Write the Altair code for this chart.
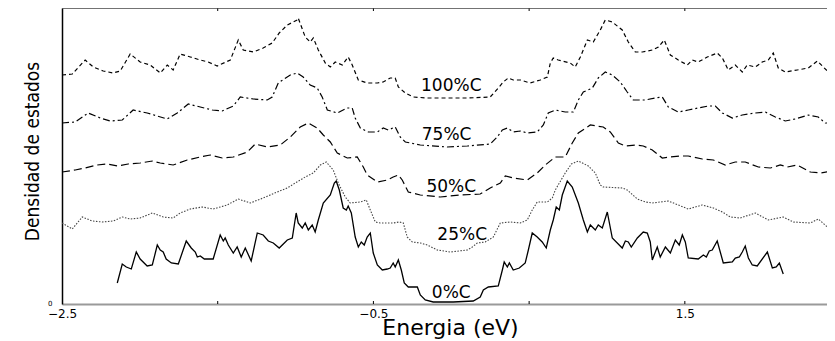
import altair as alt
import pandas as pd

# ---- data (energy in eV, density of states in arbitrary units) ----
E_0 = [-2.145, -2.113, -2.087, -2.055, -2.023, -1.998, -1.953, -1.920, -1.888, -1.869, -1.850, -1.831,
       -1.798, -1.753, -1.702, -1.670, -1.644, -1.631, -1.612, -1.586, -1.529, -1.484, -1.464, -1.452,
       -1.432, -1.400, -1.375, -1.349, -1.323, -1.285, -1.246, -1.208, -1.175, -1.143, -1.105, -1.053,
       -1.021, -0.996, -0.983, -0.957, -0.938, -0.918, -0.893, -0.874, -0.854, -0.822, -0.777, -0.751,
       -0.739, -0.719, -0.694, -0.674, -0.662, -0.642, -0.617, -0.597, -0.578, -0.559, -0.540, -0.520,
       -0.501, -0.475, -0.443, -0.411, -0.392, -0.373, -0.360, -0.340, -0.321, -0.302, -0.276, -0.218,
       -0.199, -0.167, -0.116, 0.013, 0.141, 0.186, 0.206, 0.238, 0.302, 0.328, 0.340, 0.360, 0.373,
       0.398, 0.437, 0.475, 0.495, 0.520, 0.552, 0.584, 0.610, 0.636, 0.655, 0.674, 0.694, 0.713,
       0.745, 0.777, 0.816, 0.848, 0.874, 0.893, 0.925, 0.944, 0.970, 1.002, 1.034, 1.098, 1.118,
       1.137, 1.156, 1.195, 1.233, 1.259, 1.278, 1.291, 1.323, 1.342, 1.375, 1.407, 1.439, 1.464,
       1.484, 1.503, 1.522, 1.586, 1.619, 1.638, 1.657, 1.676, 1.708, 1.747, 1.805, 1.824, 1.850,
       1.869, 1.888, 1.908, 1.933, 1.965, 2.030, 2.062, 2.087, 2.107, 2.132]
D_0 = [21, 40, 37, 35, 52, 45, 38, 39, 59, 54, 52, 45,
       41, 40, 63, 56, 52, 47, 48, 45, 45, 69, 63, 66,
       59, 51, 57, 47, 56, 43, 71, 69, 63, 61, 56, 64,
       66, 91, 81, 76, 81, 74, 79, 72, 84, 101, 109, 121,
       123, 114, 96, 94, 98, 91, 67, 57, 62, 59, 67, 71,
       51, 39, 34, 35, 36, 41, 37, 44, 34, 21, 17, 17,
       9, 4, 2, 2, 3, 7, 14, 17, 18, 34, 42, 37, 41,
       34, 36, 41, 54, 71, 67, 62, 56, 74, 84, 97, 94, 109,
       123, 117, 101, 84, 72, 79, 74, 79, 76, 92, 66, 56, 63,
       62, 57, 66, 72, 71, 62, 44, 57, 47, 57, 51, 64, 59,
       69, 62, 46, 45, 49, 47, 53, 54, 63, 41, 42, 46, 47,
       52, 58, 46, 39, 38, 52, 36, 37, 41, 30]

E_25 = [-2.500, -2.434, -2.370, -2.306, -2.242, -2.171, -2.113, -2.062, -1.998, -1.920, -1.850, -1.786,
        -1.741, -1.676, -1.599, -1.529, -1.439, -1.368, -1.291, -1.208, -1.118, -1.053, -1.002, -0.938,
        -0.886, -0.841, -0.803, -0.758, -0.726, -0.681, -0.649, -0.584, -0.546, -0.520, -0.488, -0.456,
        -0.373, -0.334, -0.308, -0.283, -0.250, -0.199, -0.154, -0.090, -0.006, 0.103, 0.135, 0.167,
        0.218, 0.270, 0.315, 0.379, 0.443, 0.488, 0.520, 0.552, 0.617, 0.649, 0.668, 0.694, 0.732,
        0.771, 0.816, 0.880, 0.925, 0.957, 0.976, 1.098, 1.130, 1.195, 1.246, 1.291, 1.394, 1.458,
        1.522, 1.612, 1.683, 1.741, 1.792, 1.856, 1.953, 2.036, 2.132, 2.197, 2.306, 2.357, 2.415, 2.450]
D_25 = [81, 75, 87, 83, 82, 83, 87, 85, 86, 91, 87, 86,
        91, 95, 97, 95, 99, 105, 101, 106, 112, 116, 121, 127,
        131, 139, 142, 134, 121, 107, 101, 102, 104, 94, 82, 81,
        81, 82, 81, 67, 62, 61, 59, 54, 52, 54, 57, 61,
        62, 67, 81, 82, 81, 84, 94, 102, 102, 106, 114, 121, 131,
        140, 143, 138, 131, 119, 117, 116, 114, 105, 102, 101, 103, 99,
        95, 99, 96, 92, 87, 86, 91, 84, 87, 82, 81, 85, 77, 76]

E_50 = [-2.500, -2.415, -2.351, -2.274, -2.209, -2.145, -2.075, -1.998, -1.920, -1.869, -1.786, -1.696,
        -1.612, -1.548, -1.471, -1.400, -1.310, -1.259, -1.182, -1.098, -1.034, -0.970, -0.918, -0.861,
        -0.822, -0.777, -0.732, -0.668, -0.604, -0.565, -0.540, -0.475, -0.411, -0.373, -0.340, -0.315,
        -0.276, -0.199, -0.071, 0.058, 0.186, 0.250, 0.315, 0.347, 0.398, 0.488, 0.552, 0.604, 0.668,
        0.732, 0.777, 0.816, 0.893, 0.976, 1.021, 1.073, 1.118, 1.182, 1.233, 1.291, 1.355, 1.407,
        1.471, 1.522, 1.612, 1.683, 1.760, 1.824, 1.888, 1.972, 2.049, 2.113, 2.158, 2.222, 2.306,
        2.370, 2.450]
D_50 = [132, 134, 136, 139, 140, 138, 140, 141, 143, 141, 139, 144,
        147, 149, 146, 147, 152, 160, 157, 159, 167, 177, 181, 176,
        169, 162, 151, 146, 147, 137, 129, 122, 124, 127, 129, 124,
        112, 109, 107, 109, 110, 116, 121, 128, 126, 124, 131, 139, 147,
        147, 161, 171, 179, 177, 172, 161, 158, 159, 158, 154, 146, 147,
        148, 148, 145, 144, 139, 142, 142, 137, 136, 139, 137, 139, 132,
        131, 133]

E_75 = [-2.500, -2.415, -2.332, -2.254, -2.190, -2.113, -2.043, -1.953, -1.888, -1.824, -1.760, -1.689,
        -1.612, -1.535, -1.471, -1.400, -1.355, -1.272, -1.182, -1.150, -1.111, -1.034, -0.989, -0.951,
        -0.906, -0.861, -0.829, -0.796, -0.732, -0.668, -0.636, -0.617, -0.584, -0.533, -0.475, -0.437,
        -0.405, -0.360, -0.328, -0.295, -0.199, -0.026, 0.103, 0.250, 0.295, 0.328, 0.360, 0.398, 0.443,
        0.488, 0.552, 0.591, 0.623, 0.668, 0.732, 0.784, 0.816, 0.848, 0.906, 0.944, 0.989, 1.034,
        1.085, 1.130, 1.169, 1.246, 1.310, 1.355, 1.394, 1.458, 1.522, 1.586, 1.651, 1.696, 1.741,
        1.805, 1.869, 1.953, 2.017, 2.081, 2.145, 2.209, 2.293, 2.357, 2.402, 2.450]
D_75 = [181, 182, 191, 186, 183, 184, 194, 191, 188, 185, 191, 200,
        197, 194, 193, 198, 207, 205, 204, 207, 221, 229, 231, 227,
        219, 216, 207, 194, 191, 196, 196, 186, 176, 172, 172, 176,
        174, 177, 167, 162, 159, 157, 158, 160, 167, 174, 176, 172, 173,
        171, 172, 179, 191, 194, 192, 192, 204, 212, 216, 226, 232, 229,
        222, 212, 204, 204, 206, 207, 197, 192, 194, 196, 198, 198, 191,
        186, 189, 191, 192, 187, 183, 185, 189, 187, 181, 181]

E_100 = [-2.500, -2.434, -2.351, -2.299, -2.235, -2.171, -2.126, -2.062, -1.998, -1.933, -1.869, -1.824,
         -1.786, -1.741, -1.676, -1.612, -1.561, -1.503, -1.419, -1.368, -1.336, -1.272, -1.208, -1.150,
         -1.105, -1.053, -0.989, -0.983, -0.938, -0.906, -0.886, -0.854, -0.809, -0.777, -0.745, -0.700,
         -0.662, -0.636, -0.597, -0.540, -0.475, -0.437, -0.392, -0.360, -0.340, -0.295, -0.244, -0.154,
         -0.026, 0.103, 0.250, 0.302, 0.334, 0.366, 0.398, 0.443, 0.507, 0.572, 0.617, 0.636, 0.655,
         0.687, 0.713, 0.764, 0.796, 0.829, 0.874, 0.912, 0.957, 0.989, 1.034, 1.098, 1.137, 1.182,
         1.227, 1.291, 1.330, 1.368, 1.407, 1.458, 1.516, 1.548, 1.586, 1.644, 1.708, 1.741, 1.779,
         1.824, 1.869, 1.901, 1.953, 1.997, 2.036, 2.068, 2.100, 2.145, 2.222, 2.293, 2.351, 2.415, 2.450]
D_100 = [229, 230, 244, 237, 233, 231, 233, 250, 242, 239, 231, 239,
         234, 250, 247, 244, 242, 238, 244, 264, 254, 252, 256, 261,
         271, 279, 284, 286, 267, 262, 266, 254, 241, 237, 242, 239,
         247, 239, 224, 221, 221, 222, 226, 226, 217, 211, 207, 206,
         206, 206, 207, 216, 222, 226, 224, 224, 221, 224, 227, 241, 246,
         244, 243, 241, 237, 247, 264, 262, 274, 284, 282, 274, 262, 252,
         252, 254, 257, 264, 249, 244, 239, 244, 242, 247, 251, 246, 234,
         239, 232, 239, 237, 242, 244, 251, 236, 232, 234, 236, 243, 233, 229]

LABELS = ["100%C", "75%C", "50%C", "25%C", "0%C"]
LABEL_E = [0.00, -0.03, 0.00, 0.07, 0.00]
LABEL_D = [218, 169, 117, 69, 11]

X_TICKS = [-1.5, -0.5, 0.5, 1.5]
X_LABELS = [-2.5, -0.5, 1.5]
X_MIN, X_MAX = -2.5, 2.413

W, H = 765, 296
xscale = alt.Scale(domain=[X_MIN, X_MAX], nice=False, zero=False)
yscale = alt.Scale(domain=[0, 296], nice=False, zero=False)

xaxis = alt.Axis(values=X_LABELS, format=".1f", ticks=False, grid=False, labelFlush=False,
                 domainColor="#9a9a9a", domainWidth=2, labelFont="DejaVu Sans", labelFontSize=12,
                 labelColor="black", labelPadding=4, title="Energia (eV)", titleFont="DejaVu Sans",
                 titleFontSize=22, titleFontWeight="normal", titleColor="black",
                 titleBaseline="alphabetic", titleY=30, titleX=388)
yaxis = alt.Axis(values=[0], ticks=False, grid=False, domainColor="black", domainWidth=1.5,
                 labelFont="DejaVu Sans", labelFontSize=7, labelColor="black", labelPadding=10,
                 labelBaseline="bottom", labelOffset=2,
                 title="Densidad de estados",
                 titleFont="DejaVu Sans Condensed, sans-serif",
                 titleFontSize=19, titleFontWeight="normal", titleColor="black", titleAngle=270,
                 titleX=-30, titleY=143, titleAlign="center", titleBaseline="middle")

X = alt.X("Energia:Q", scale=xscale, axis=xaxis)
Y = alt.Y("DOS:Q", scale=yscale, axis=yaxis)


def curve(e, d, color, width, dash=None):
    df = pd.DataFrame({"Energia": e, "DOS": d})
    kw = dict(color=color, strokeWidth=width, clip=True)
    if dash:
        kw["strokeDash"] = dash
    return alt.Chart(df).mark_line(**kw).encode(x=X, y=Y)


layers = [
    curve(E_0, D_0, "black", 1.3),
    curve(E_25, D_25, "#444444", 1.1, [1.5, 1.5]),
    curve(E_50, D_50, "black", 1.2, [8, 4]),
    curve(E_75, D_75, "black", 1.2, [7, 3, 2, 3]),
    curve(E_100, D_100, "black", 1.2, [4, 3]),
]

lab_df = pd.DataFrame({"Energia": LABEL_E, "DOS": LABEL_D, "txt": LABELS})
labels = alt.Chart(lab_df).mark_text(font="DejaVu Sans", fontSize=17, color="black",
                                     align="center", baseline="middle").encode(x=X, y=Y, text="txt:N")

tick_df = pd.DataFrame({"Energia": X_TICKS})
ticks_bottom = alt.Chart(tick_df).mark_rule(color="black", strokeWidth=1).encode(
    x=X, y=alt.datum(0), y2=alt.datum(3))
ticks_top = alt.Chart(tick_df).mark_rule(color="black", strokeWidth=1).encode(
    x=X, y=alt.datum(296), y2=alt.datum(293))
top_line = alt.Chart(pd.DataFrame({"Energia": [X_MIN], "E2": [X_MAX]})).mark_rule(
    color="#444444", strokeWidth=1.5).encode(x=X, x2="E2:Q", y=alt.datum(296))

chart = alt.layer(*layers, labels, ticks_bottom, ticks_top, top_line).properties(
    width=W, height=H,
    autosize=alt.AutoSizeParams(type="none"),
    padding={"left": 54, "top": 0, "right": 0, "bottom": 37},
).configure_view(stroke=None)

chart.save("out.html", embed_options={"renderer": "svg", "actions": False})
